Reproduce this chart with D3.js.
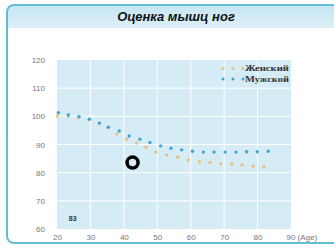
<!DOCTYPE html>
<html>
<head>
<meta charset="utf-8">
<script src="https://cdn.jsdelivr.net/npm/d3@7"></script>
<style>
  body { margin: 0; background: #fff; }
  svg { display: block; font-family: Arial, "Liberation Sans", sans-serif; }
</style>
</head>
<body>
<div id="chart"></div>
<script>
// chart values
var title = "Оценка мышц ног";
var femaleAge = [20.1, 23.4, 26.4, 29.7, 32.7, 35.2, 37.9, 40.8, 43.8, 46.6, 49.6, 52.8, 56.1, 59.3, 62.6, 65.8, 69.0, 72.3, 75.4, 78.7, 81.9];
var femaleScore = [100.1, 100.1, 99.5, 99.0, 97.6, 96.1, 93.7, 91.9, 90.5, 89.0, 87.3, 86.3, 85.5, 84.5, 83.9, 83.6, 83.2, 83.0, 82.7, 82.3, 82.0];
var maleAge = [20.4, 23.4, 26.6, 29.7, 32.7, 35.4, 38.6, 41.6, 44.8, 47.8, 51.0, 54.1, 57.3, 60.5, 63.8, 67.0, 70.3, 73.5, 76.7, 79.9, 83.2];
var maleScore = [101.3, 100.5, 99.9, 99.0, 97.6, 96.1, 94.8, 93.0, 91.9, 90.7, 89.5, 88.7, 88.1, 87.6, 87.3, 87.3, 87.3, 87.3, 87.4, 87.4, 87.6];
var xTicks = [20, 30, 40, 50, 60, 70, 80, 90];
var yTicks = [60, 70, 80, 90, 100, 110, 120];
var legendNames = ["Женский", "Мужской"];
var userAge = [42.6];
var userScore = [83.6];
var scoreLabel = "83";

var width = 334;
var height = 246;
var colors = { female: "#e6c283", male: "#3fa6d2" };

var svg = d3.select("#chart")
  .append("svg")
  .attr("width", width)
  .attr("height", height);

// outer frame with title band
var defs = svg.append("defs");
var grad = defs.append("linearGradient")
  .attr("id", "band")
  .attr("x1", 0).attr("y1", 0).attr("x2", 0).attr("y2", 1);
grad.append("stop").attr("offset", "0%").attr("stop-color", "#c6e5f3");
grad.append("stop").attr("offset", "100%").attr("stop-color", "#dcf0f8");

defs.append("clipPath").attr("id", "frameClip")
  .append("rect")
  .attr("x", 7).attr("y", 5)
  .attr("width", 340).attr("height", 238)
  .attr("rx", 7);

svg.append("rect")
  .attr("x", 7).attr("y", 5)
  .attr("width", 340).attr("height", 238)
  .attr("rx", 7)
  .attr("fill", "#fff");

svg.append("rect")
  .attr("clip-path", "url(#frameClip)")
  .attr("x", 7).attr("y", 5)
  .attr("width", 340).attr("height", 23)
  .attr("fill", "url(#band)");

svg.append("rect")
  .attr("x", 7).attr("y", 5)
  .attr("width", 340).attr("height", 238)
  .attr("rx", 7)
  .attr("fill", "none")
  .attr("stroke", "#62bfd3")
  .attr("stroke-width", 2);

svg.append("text")
  .attr("x", 176)
  .attr("y", 21)
  .attr("text-anchor", "middle")
  .attr("font-size", 13)
  .attr("font-weight", "bold")
  .attr("font-style", "italic")
  .attr("fill", "#111")
  .text(title);

// scales
var x = d3.scaleLinear().domain([20, 90]).range([57, 291]);
var y = d3.scaleLinear().domain([60, 120]).range([229, 60]);

// plot background and white grid
svg.append("rect")
  .attr("x", x(20)).attr("y", y(120))
  .attr("width", x(90) - x(20))
  .attr("height", y(60) - y(120))
  .attr("fill", "#d5ecf6");

svg.append("g")
  .selectAll("line")
  .data(xTicks.slice(1, -1))
  .enter()
  .append("line")
  .attr("x1", d => x(d)).attr("x2", d => x(d))
  .attr("y1", y(120)).attr("y2", y(60))
  .attr("stroke", "#fff")
  .attr("stroke-width", 1);

svg.append("g")
  .selectAll("line")
  .data(yTicks.slice(1, -1))
  .enter()
  .append("line")
  .attr("x1", x(20)).attr("x2", x(90))
  .attr("y1", d => y(d)).attr("y2", d => y(d))
  .attr("stroke", "#fff")
  .attr("stroke-width", 1);

// axes (labels only)
var xAxis = svg.append("g")
  .attr("transform", "translate(0," + (y(60) + 2) + ")")
  .call(d3.axisBottom(x).tickValues(xTicks).tickSize(0)
    .tickFormat(d => d === 90 ? "90 (Age)" : d));
xAxis.select(".domain").remove();
xAxis.selectAll("text")
  .attr("font-size", 8)
  .attr("fill", "#777")
  .attr("font-family", "Arial, 'Liberation Sans', sans-serif");
xAxis.selectAll("text").filter(d => d === 90)
  .attr("text-anchor", "start")
  .attr("dx", -5);

var yAxis = svg.append("g")
  .attr("transform", "translate(" + (x(20) - 9) + ",0)")
  .call(d3.axisLeft(y).tickValues(yTicks).tickSize(0));
yAxis.select(".domain").remove();
yAxis.selectAll("text")
  .attr("font-size", 8)
  .attr("fill", "#777")
  .attr("font-family", "Arial, 'Liberation Sans', sans-serif");

// dotted series
function drawSeries(ages, scores, color) {
  svg.append("g")
    .selectAll("circle")
    .data(ages)
    .enter()
    .append("circle")
    .attr("cx", d => x(d))
    .attr("cy", (d, i) => y(scores[i]))
    .attr("r", 1.7)
    .attr("fill", color);
}
drawSeries(femaleAge, femaleScore, colors.female);
drawSeries(maleAge, maleScore, colors.male);

// user marker
svg.append("g")
  .selectAll("circle")
  .data(userAge)
  .enter()
  .append("circle")
  .attr("cx", d => x(d))
  .attr("cy", (d, i) => y(userScore[i]))
  .attr("r", 5.5)
  .attr("fill", "none")
  .attr("stroke", "#000")
  .attr("stroke-width", 3.5);

svg.append("text")
  .attr("x", x(24.7))
  .attr("y", y(62.8))
  .attr("text-anchor", "middle")
  .attr("font-size", 7)
  .attr("font-weight", "bold")
  .attr("fill", "#333")
  .text(scoreLabel);

// legend
var legendColors = [colors.female, colors.male];
var legend = svg.append("g");
legendNames.forEach(function(name, i) {
  var ly = 68.5 + i * 10.5;
  [223, 233, 243].forEach(function(lx) {
    legend.append("circle")
      .attr("cx", lx).attr("cy", ly)
      .attr("r", 1.5)
      .attr("fill", legendColors[i]);
  });
  legend.append("text")
    .attr("x", 245)
    .attr("y", ly + 2.5)
    .attr("font-size", 7.5)
    .attr("font-family", "'Liberation Serif', serif")
    .attr("font-weight", "bold")
    .attr("textLength", 44)
    .attr("lengthAdjust", "spacingAndGlyphs")
    .attr("fill", "#333")
    .text(name);
});
</script>
</body>
</html>
